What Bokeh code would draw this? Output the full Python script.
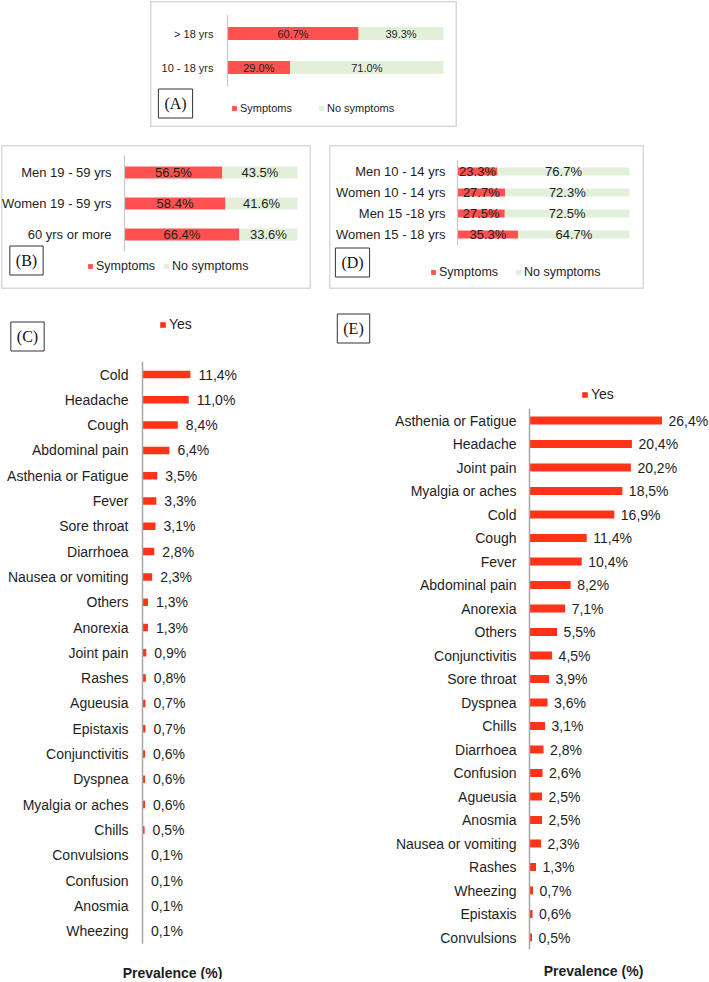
from bokeh.plotting import figure
from bokeh.models import Range1d, Label, Legend, LegendItem, ColumnDataSource, Spacer
from bokeh.layouts import column, row
from bokeh.embed import file_html
from bokeh.resources import INLINE
from bokeh.core.properties import value

# ---------------- data ----------------
a_groups = ["> 18 yrs", "10 - 18 yrs"]
a_symptoms = [60.7, 29.0]
a_none = [39.3, 71.0]

b_groups = ["Men 19 - 59 yrs", "Women 19 - 59 yrs", "60 yrs or more"]
b_symptoms = [56.5, 58.4, 66.4]
b_none = [43.5, 41.6, 33.6]

d_groups = ["Men 10 - 14 yrs", "Women 10 - 14 yrs", "Men 15 -18 yrs", "Women 15 - 18 yrs"]
d_symptoms = [23.3, 27.7, 27.5, 35.3]
d_none = [76.7, 72.3, 72.5, 64.7]

c_items = ["Cold", "Headache", "Cough", "Abdominal pain", "Asthenia or Fatigue", "Fever",
           "Sore throat", "Diarrhoea", "Nausea or vomiting", "Others", "Anorexia", "Joint pain",
           "Rashes", "Agueusia", "Epistaxis", "Conjunctivitis", "Dyspnea", "Myalgia or aches",
           "Chills", "Convulsions", "Confusion", "Anosmia", "Wheezing"]
c_values = [11.4, 11.0, 8.4, 6.4, 3.5, 3.3, 3.1, 2.8, 2.3, 1.3, 1.3, 0.9, 0.8, 0.7, 0.7,
            0.6, 0.6, 0.6, 0.5, 0.1, 0.1, 0.1, 0.1]

e_items = ["Asthenia or Fatigue", "Headache", "Joint pain", "Myalgia or aches", "Cold", "Cough",
           "Fever", "Abdominal pain", "Anorexia", "Others", "Conjunctivitis", "Sore throat",
           "Dyspnea", "Chills", "Diarrhoea", "Confusion", "Agueusia", "Anosmia",
           "Nausea or vomiting", "Rashes", "Wheezing", "Epistaxis", "Convulsions"]
e_values = [26.4, 20.4, 20.2, 18.5, 16.9, 11.4, 10.4, 8.2, 7.1, 5.5, 4.5, 3.9, 3.6, 3.1, 2.8,
            2.6, 2.5, 2.5, 2.3, 1.3, 0.7, 0.6, 0.5]

# ---------------- styles ----------------
RED = "#FF5250"
GREEN = "#E2F0D9"
ORANGE = "#FF3318"
BOX = "#D9D9D9"
AXIS_LIGHT = "#C8C8C8"
AXIS_DARK = "#A6A6A6"
TXT = "#1E1E1E"
SANS = value("Liberation Sans")
SERIF = "Liberation Serif"


def frame(w, h, x0, ppu, y0, ppr, outline):
    p = figure(width=w, height=h,
               x_range=Range1d(-x0 / ppu, (w - x0) / ppu),
               y_range=Range1d((h - y0) / ppr, -y0 / ppr),
               output_backend="svg", toolbar_location=None, tools="",
               x_axis_location=None, y_axis_location=None, min_border=0, title=None)
    p.xgrid.grid_line_color = None
    p.ygrid.grid_line_color = None
    p.outline_line_color = outline
    p.outline_line_width = 2
    p.background_fill_color = "white"
    p.border_fill_color = "white"
    return p


def tag(p, text, cx, cy):
    p.add_layout(Label(x=cx, y=cy, x_units="screen", y_units="screen", text=text,
                       text_align="center", text_baseline="middle", text_font=SERIF,
                       text_font_size="16px", text_color="#111111",
                       border_line_color="#333333", border_line_width=1, padding=6,
                       background_fill_color="white"))


def legend(p, items, lx, ly, fs, spacing, gw):
    p.add_layout(Legend(items=items, orientation="horizontal", location=(lx, ly),
                        glyph_width=gw, glyph_height=gw, label_standoff=3, spacing=spacing,
                        padding=0, margin=0, border_line_color=None, background_fill_alpha=0,
                        label_text_font="Liberation Sans", label_text_font_size=fs,
                        label_text_color=TXT, label_height=12))


def stacked(groups, sym, none, w, h, x0, ppu, y0, ppr, bar_px, label_off, fs, axis_color,
            tag_text, tag_xy, leg_xy, leg_fs, leg_spacing):
    p = frame(w, h, x0, ppu, y0, ppr, BOX)
    n = len(groups)
    src = ColumnDataSource(dict(
        y=list(range(n)), g=groups, s=sym,
        tot=[a + b for a, b in zip(sym, none)],
        sm=[a / 2 for a in sym],
        nm=[a + b / 2 for a, b in zip(sym, none)],
        st=[f"{a:.1f}%" for a in sym],
        nt=[f"{b:.1f}%" for b in none]))
    r1 = p.hbar(y="y", left=0, right="s", height=bar_px / ppr, fill_color=RED,
                line_color=None, source=src)
    r2 = p.hbar(y="y", left="s", right="tot", height=bar_px / ppr, fill_color=GREEN,
                line_color=None, source=src)
    p.segment(x0=0, y0=-0.55, x1=0, y1=n - 0.45, line_color=axis_color, line_width=1.2)
    p.text(x=0, y="y", text="g", x_offset=-label_off, text_align="right",
           text_baseline="middle", text_font=SANS, text_font_size=fs, text_color=TXT, source=src)
    p.text(x="sm", y="y", text="st", text_align="center", text_baseline="middle",
           text_font=SANS, text_font_size=fs, text_color=TXT, source=src)
    p.text(x="nm", y="y", text="nt", text_align="center", text_baseline="middle",
           text_font=SANS, text_font_size=fs, text_color=TXT, source=src)
    tag(p, tag_text, *tag_xy)
    legend(p, [LegendItem(label="Symptoms", renderers=[r1]),
               LegendItem(label="No symptoms", renderers=[r2])],
           leg_xy[0], leg_xy[1], leg_fs, leg_spacing, 6)
    return p


def single(items, vals, w, h, x0, ppu, y0, ppr, bar_px, label_off, val_off,
           tag_text, tag_xy, leg_xy, title_xy):
    p = frame(w, h, x0, ppu, y0, ppr, None)
    n = len(items)
    src = ColumnDataSource(dict(
        y=list(range(n)), g=items, v=vals,
        t=[f"{v:.1f}".replace(".", ",") + "%" for v in vals]))
    r = p.hbar(y="y", left=0, right="v", height=bar_px / ppr, fill_color=ORANGE,
               line_color=None, source=src)
    p.segment(x0=0, y0=-0.5, x1=0, y1=n - 0.5, line_color=AXIS_DARK, line_width=1.5)
    p.text(x=0, y="y", text="g", x_offset=-label_off, text_align="right",
           text_baseline="middle", text_font=SANS, text_font_size="14px", text_color=TXT,
           source=src)
    p.text(x="v", y="y", text="t", x_offset=val_off, text_align="left",
           text_baseline="middle", text_font=SANS, text_font_size="14px", text_color=TXT,
           source=src)
    tag(p, tag_text, *tag_xy)
    legend(p, [LegendItem(label="Yes", renderers=[r])], leg_xy[0], leg_xy[1], "14px", 0, 7)
    p.add_layout(Label(x=title_xy[0], y=title_xy[1], x_units="screen", y_units="screen",
                       text="Prevalence (%)", text_align="center", text_baseline="middle",
                       text_font="Liberation Sans", text_font_style="bold",
                       text_font_size="14px", text_color=TXT))
    return p


pA = stacked(a_groups, a_symptoms, a_none, 307, 126, 77, 2.16, 32, 34, 13, 14, "11px",
             AXIS_LIGHT, "(A)", (25, 24), (81, 13), "11px", 26)
pB = stacked(b_groups, b_symptoms, b_none, 310, 144, 123, 1.73, 27, 31, 12, 13, "13px",
             AXIS_LIGHT, "(B)", (25, 29), (86, 16), "12.5px", 8)
pD = stacked(d_groups, d_symptoms, d_none, 315, 144, 128, 1.72, 26, 21, 8, 12, "13px",
             AXIS_LIGHT, "(D)", (23, 27), (101, 10), "12.5px", 17)

pC = single(c_items, c_values, 330, 690, 142, 4.2, 85, 25.3, 7.5, 14, 8,
            "(C)", (27, 643), (159, 647), (172, 7))
pE = single(e_items, e_values, 379, 690, 199, 5.02, 131, 23.5, 8, 13, 6.5,
            "(E)", (23, 651), (251, 577), (263, 9))

layout = column(
    Spacer(width=10, height=1),
    row(Spacer(width=150, height=126), pA),
    Spacer(width=10, height=18),
    row(Spacer(width=1, height=144), pB, Spacer(width=18, height=144), pD),
    row(pC, pE),
)

open("out.html", "w").write(file_html(layout, INLINE))
